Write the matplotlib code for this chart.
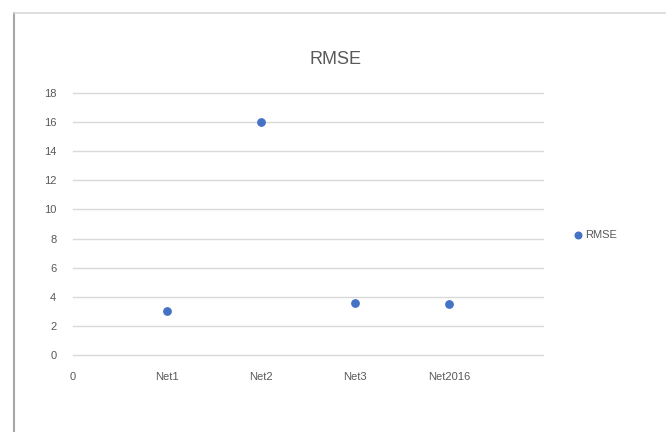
import matplotlib
matplotlib.use("Agg")
import matplotlib.pyplot as plt
from matplotlib.lines import Line2D

categories = ["Net1", "Net2", "Net3", "Net2016"]
rmse = [3.0, 16.0, 3.6, 3.5]
x_ticklabels = ["0", "Net1", "Net2", "Net3", "Net2016"]
y_ticks = [0, 2, 4, 6, 8, 10, 12, 14, 16, 18]

plt.rcParams['font.family'] = ['Liberation Sans', 'DejaVu Sans']

fig = plt.figure(figsize=(6.66, 4.32), dpi=100)
fig.patch.set_facecolor('white')

# chart-area border (screenshot frame)
fig.add_artist(Line2D([14/666, 14/666], [0, 1 - 13/432], transform=fig.transFigure,
                      color='#a6a6a6', lw=1.5))
fig.add_artist(Line2D([14/666, 1], [1 - 13/432, 1 - 13/432], transform=fig.transFigure,
                      color='#d9d9d9', lw=1.2))

ax = fig.add_axes([73/666, 1 - 355/432, (543 - 73)/666, (355 - 93)/432])
xs = list(range(1, len(categories) + 1))
ax.scatter(xs, rmse, s=28, color='#4472C4', zorder=3, label='RMSE')

ax.set_xlim(0, 5)
ax.set_ylim(0, 18)
ax.set_yticks(y_ticks)
ax.set_xticks(range(len(x_ticklabels)))
ax.set_xticklabels(x_ticklabels)
ax.grid(axis='y', color='#d9d9d9', lw=1)
for gl in ax.get_ygridlines():
    gl.set_clip_on(False)
ax.set_axisbelow(True)
for s in ax.spines.values():
    s.set_visible(False)
ax.tick_params(length=0, colors='#595959', labelsize=8)
ax.tick_params(axis='y', pad=12)
ax.tick_params(axis='x', pad=12)

fig.text(335/666, 1 - 60/432, "RMSE", ha='center', va='center', fontsize=13, color='#595959')

ax.legend(loc='center left', bbox_to_anchor=(567/666, 1 - 235/432), bbox_transform=fig.transFigure,
          frameon=False, fontsize=8, labelcolor='#595959', handletextpad=0.1, markerscale=0.9,
          borderpad=0, handlelength=1)

fig.savefig("out.png", dpi=100)
